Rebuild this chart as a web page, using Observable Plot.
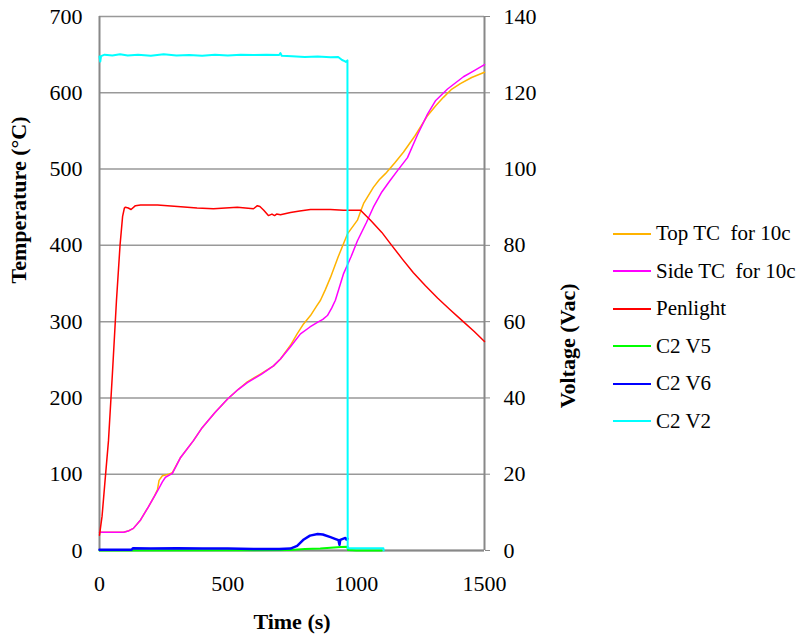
<!DOCTYPE html>
<html>
<head>
<meta charset="utf-8">
<script src="https://cdn.jsdelivr.net/npm/d3@7"></script>
<script src="https://cdn.jsdelivr.net/npm/@observablehq/plot@0.6"></script>
<style>
  html, body { margin: 0; padding: 0; background: #fff; }
  #wrap { position: relative; width: 809px; height: 642px; }
  #wrap svg text { font-family: "Liberation Serif", "Times New Roman", Times, serif; }
  #legend { position: absolute; left: 613px; top: 215px; font-family: "Liberation Serif", "Times New Roman", Times, serif; font-size: 21px; color: #000; }
  .row { display: flex; align-items: center; height: 37.5px; white-space: pre; }
  .row svg { margin-right: 5px; }
</style>
</head>
<body>
<div id="wrap"><div id="legend"></div></div>
<script>
// ---- data (time s, value) ----
const xTicks = [0, 500, 1000, 1500];
const tempTicks = [0, 100, 200, 300, 400, 500, 600, 700];
const voltPerTemp = 5; // right axis: 0–140 Vac maps onto 0–700 °C

const topTC = [[0,24],[60,24],[94,24],[115,26],[132,29],[160,40],[190,57],[215,72],[226,80],[232,92],[245,98],[270,100],[284,102],[316,122],[366,144],[400,161],[450,181],[500,199],[540,211],[576,221],[630,232],[678,242],[705,251],[744,269],[770,284],[795,297],[822,308],[845,320],[861,328],[880,342],[900,358],[930,385],[966,415],[1005,433],[1020,447],[1029,455],[1067,476],[1090,486],[1114,494],[1150,508],[1184,522],[1230,544],[1278,570],[1310,583],[1340,594],[1370,604],[1406,612],[1450,620],[1500,627]];
const sideTC = [[0,24],[94,24],[115,26],[132,29],[160,40],[190,57],[226,78],[245,90],[257,96],[284,101],[316,122],[366,144],[400,161],[450,181],[500,199],[540,211],[576,220],[630,231],[678,242],[705,251],[744,267],[783,284],[820,293],[849,299],[870,303],[888,308],[905,318],[919,328],[951,363],[980,385],[1005,406],[1040,430],[1067,450],[1100,470],[1130,484],[1161,498],[1200,515],[1239,545],[1278,572],[1310,590],[1356,605],[1418,621],[1460,629],[1500,637]];
const penlight = [[0,20],[10,45],[20,85],[35,144],[50,230],[66,327],[80,400],[90,438],[97,449],[101,450],[112,449],[123,447],[140,452],[160,453],[226,453],[304,451],[380,449],[444,448],[537,450],[600,448],[615,452],[625,451],[640,446],[658,439],[672,441],[682,439],[690,441],[705,440],[744,443],[780,445],[822,447],[900,447],[950,446],[1000,446],[1017,446],[1056,433],[1100,417],[1134,402],[1180,382],[1223,364],[1270,347],[1317,331],[1365,316],[1414,301],[1460,287],[1500,274]];
const c2v5 = [[0,0],[744,0.1],[800,0.4],[860,0.5],[900,0.7],[940,0.9],[966,1.0],[968,0.1],[1000,0],[1100,0]];
const c2v6 = [[0,0.2],[125,0.2],[130,0.6],[200,0.5],[300,0.6],[400,0.5],[500,0.5],[600,0.4],[700,0.4],[744,0.5],[770,1.2],[796,2.9],[820,3.9],[850,4.3],[870,4.2],[900,3.5],[920,3.0],[931,2.7],[935,1.5],[938,2.8],[958,3.3],[962,2.9],[966,3.1]];
const c2v2 = [[0,129.5],[3,128.2],[6,129.6],[20,130],[50,129.8],[80,130.1],[110,129.8],[150,130],[200,129.7],[250,130.1],[300,129.8],[350,129.9],[400,129.7],[450,130],[500,129.8],[550,130],[600,129.9],[650,130],[700,129.9],[705,130.4],[710,129.7],[750,129.6],[800,129.4],[850,129.5],[900,129.3],[930,129.4],[945,128.6],[955,128.3],[960,128.1],[966,128.5],[967,0.6],[1000,0.6],[1106,0.6],[1107,0]];

const series = [
  {name: "Top TC  for 10c", data: topTC, color: "#FFB300", width: 1.5, volt: false},
  {name: "Side TC  for 10c", data: sideTC, color: "#FF00FF", width: 1.5, volt: false},
  {name: "Penlight", data: penlight, color: "#FF0000", width: 1.5, volt: false},
  {name: "C2 V5", data: c2v5, color: "#00FF00", width: 2, volt: true},
  {name: "C2 V6", data: c2v6, color: "#0000FF", width: 2.5, volt: true},
  {name: "C2 V2", data: c2v2, color: "#00FFFF", width: 2, volt: true}
];

const lineMarks = series.map(s => Plot.line(s.data, {
  x: d => d[0],
  y: d => s.volt ? d[1] * voltPerTemp : d[1],
  stroke: s.color, strokeWidth: s.width
}));

const chart = Plot.plot({
  width: 809, height: 642,
  marginLeft: 99, marginRight: 325, marginTop: 16, marginBottom: 92,
  style: {fontFamily: "Liberation Serif", fontSize: "22px", color: "#000", background: "#fff"},
  x: {domain: [0, 1500]},
  y: {domain: [0, 700]},
  marks: [
    Plot.gridY(tempTicks, {stroke: "#999", strokeOpacity: 1, strokeWidth: 1.5}),
    Plot.axisY({ticks: tempTicks, tickSize: 0, tickPadding: 17, label: null, tickFormat: d => String(d)}),
    Plot.axisY({anchor: "right", ticks: tempTicks, tickFormat: d => String(d / voltPerTemp), tickSize: 5, tickPadding: 14, stroke: "#888", label: null}),
    Plot.axisX({ticks: xTicks, tickSize: 0, tickPadding: 25, label: null, tickFormat: d => String(d)}),
    Plot.ruleX([0, 1500], {stroke: "#888", strokeWidth: 2}),
    Plot.ruleY([0], {stroke: "#888", strokeWidth: 2}),
    ...lineMarks,
    Plot.text(["Temperature (°C)"], {frameAnchor: "left", dx: -81, rotate: -90, fontWeight: "bold", text: d => d}),
    Plot.text(["Voltage (Vac)"], {frameAnchor: "right", dx: 83, rotate: -90, fontWeight: "bold", text: d => d}),
    Plot.text(["Time (s)"], {frameAnchor: "bottom", dy: 78, fontWeight: "bold", text: d => d})
  ]
});
document.getElementById("wrap").prepend(chart);

const legend = document.getElementById("legend");
for (const s of series) {
  const row = document.createElement("div");
  row.className = "row";
  row.innerHTML = `<svg width="38" height="4"><line x1="0" x2="38" y1="2" y2="2" stroke="${s.color}" stroke-width="2"/></svg><span>${s.name}</span>`;
  legend.appendChild(row);
}
</script>
</body>
</html>
